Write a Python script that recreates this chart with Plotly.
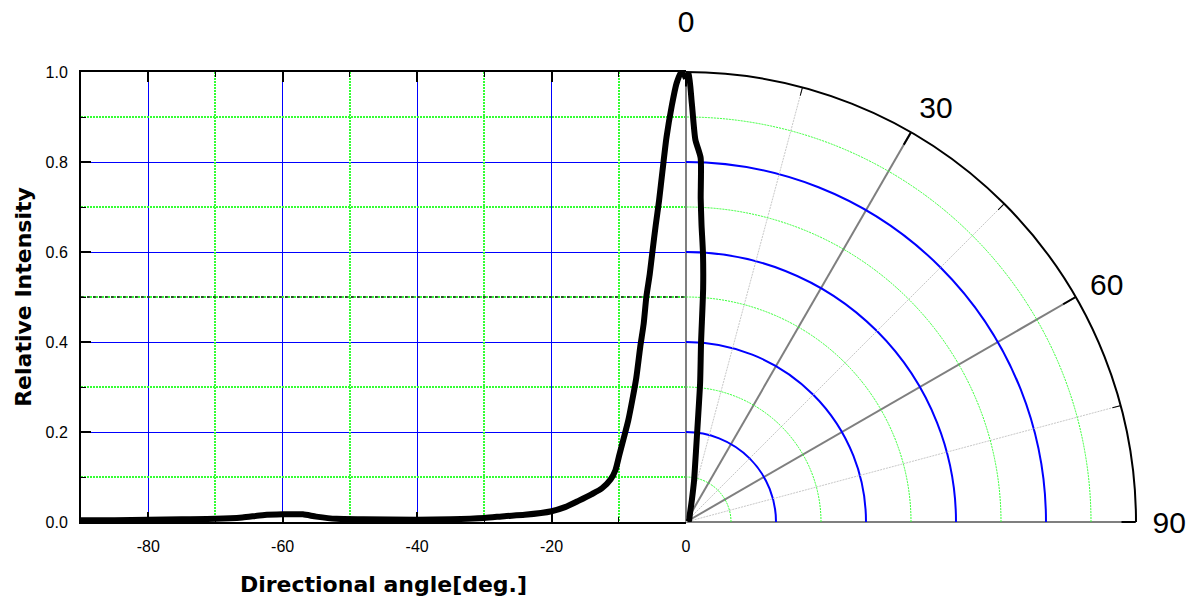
import plotly.graph_objects as go

# ---------------- data ----------------
# Left (cartesian) profile: directional angle [deg] vs relative intensity
left_angle = [-90, -85, -80, -75, -70, -66, -63, -60, -57, -55, -52, -48, -40, -35,
              -30, -27, -24, -20, -18, -16, -14, -12.5, -11.2, -10.5, -9.9, -9.2,
              -8.6, -8.0, -7.4, -6.8, -6.3, -5.9, -5.4, -5.0, -4.5, -4.0, -3.5,
              -2.9, -2.1, -1.4, -0.7, -0.3, 0]
left_intensity = [0.004, 0.004, 0.005, 0.006, 0.007, 0.010, 0.015, 0.017, 0.017, 0.012,
                  0.007, 0.006, 0.005, 0.006, 0.009, 0.013, 0.016, 0.024, 0.033, 0.047,
                  0.062, 0.075, 0.095, 0.115, 0.150, 0.190, 0.225, 0.270, 0.320, 0.390,
                  0.440, 0.500, 0.550, 0.600, 0.660, 0.715, 0.780, 0.855, 0.926, 0.975,
                  1.000, 0.995, 0.985]

# Right (polar) lobe: angle [deg] vs relative intensity
polar_angle = [0, 0.3, 0.8, 1.4, 2.3, 2.6, 3.0, 3.6, 4.2, 4.8, 5.8, 7.3, 9.0, 11.0,
               15.0, 24.0, 40.0, 60.0, 90.0]
polar_intensity = [1.0, 0.998, 0.93, 0.85, 0.81, 0.72, 0.66, 0.60, 0.52, 0.40, 0.31,
                   0.19, 0.13, 0.094, 0.05, 0.022, 0.012, 0.008, 0.005]

x_ticks = [-80, -60, -40, -20, 0]
x_tick_labels = ["-80", "-60", "-40", "-20", "0"]
x_minor_ticks = [-90, -70, -50, -30, -10]
y_ticks = [0.0, 0.2, 0.4, 0.6, 0.8, 1.0]
y_minor_ticks = [0.1, 0.3, 0.5, 0.7, 0.9]
polar_major_angles = [0, 30, 60, 90]
polar_side_angles = [30, 60, 90]
polar_side_labels = ["30", "60", "90"]
polar_top_angles = [0]
polar_top_labels = ["0"]
polar_minor_angles = [15, 45, 75]
radial_major = [0.2, 0.4, 0.6, 0.8]
radial_minor = [0.1, 0.3, 0.5, 0.7, 0.9]
radial_outer = [1.0]
radial_outer_range = [0, 1.02]

# ---------------- layout geometry ----------------
W, H = 1198, 607
cx, cy = 686, 522          # pixel position of the origin / polar centre
R = 450                    # pixel radius of polar plot (= height of left plot)
x_left = 81

BLUE = "#0000ff"
GREEN = "#33ff33"
GDASH = "2px,1px"
FONT = "Liberation Sans"

fig = go.Figure()

fig.add_trace(go.Scatter(
    x=left_angle, y=left_intensity, mode="lines",
    line=dict(color="black", width=6, shape="spline", smoothing=0.6),
    cliponaxis=False, showlegend=False, hoverinfo="skip"))

# empty trace so that the overlay axes (minor grid) are rendered
fig.add_trace(go.Scatter(x=[], y=[], xaxis="x2", yaxis="y2", mode="lines",
                         showlegend=False, hoverinfo="skip"))

# empty traces so that the grid-only polar layers are rendered
for sp in ["polar", "polar2", "polar3"]:
    fig.add_trace(go.Scatterpolar(r=[], theta=[], mode="lines", subplot=sp,
                                  showlegend=False, hoverinfo="skip"))

fig.add_trace(go.Scatterpolar(
    r=polar_intensity, theta=polar_angle, mode="lines",
    line=dict(color="black", width=6, shape="spline", smoothing=0.6),
    cliponaxis=False, subplot="polar4", showlegend=False, hoverinfo="skip"))

ydom = [(H - cy) / H, (H - cy + R) / H]
tick_font = dict(size=16, family=FONT)

fig.update_layout(
    template="none",
    width=W, height=H,
    margin=dict(l=0, r=0, t=0, b=0),
    paper_bgcolor="white", plot_bgcolor="white",
    font=dict(family=FONT, color="black"),
    xaxis=dict(
        domain=[x_left / W, cx / W], range=[-90, 0], automargin=False,
        tickvals=x_ticks, ticktext=x_tick_labels,
        ticks="inside", ticklen=10, tickwidth=1.5, tickcolor="black",
        showline=True, linewidth=2, linecolor="black", mirror="ticks",
        showgrid=True, gridcolor=BLUE, gridwidth=1, zeroline=False,
        tickfont=tick_font, ticklabelstandoff=9,
        title=dict(text="<b>Directional angle[deg.]</b>",
                   font=dict(size=22, family="DejaVu Sans"), standoff=22),
    ),
    yaxis=dict(
        domain=ydom, range=[0, 1], automargin=False,
        tickvals=y_ticks, tickformat=".1f",
        ticks="inside", ticklen=10, tickwidth=1.5, tickcolor="black",
        showline=True, linewidth=2, linecolor="black",
        showgrid=True, gridcolor=BLUE, gridwidth=1, zeroline=False,
        tickfont=tick_font, ticklabelstandoff=8,
        title=dict(text="<b>Relative Intensity</b>",
                   font=dict(size=22, family="DejaVu Sans"), standoff=8),
    ),
    xaxis2=dict(
        overlaying="x", anchor="y2", range=[-90, 0], automargin=False,
        tickvals=x_minor_ticks, showticklabels=False,
        ticks="inside", ticklen=5, tickwidth=1.2, tickcolor="black", mirror="ticks",
        showline=False, zeroline=False,
        showgrid=True, gridcolor=GREEN, griddash=GDASH, gridwidth=1.5,
    ),
    yaxis2=dict(
        overlaying="y", anchor="x2", range=[0, 1], automargin=False,
        tickvals=y_minor_ticks, showticklabels=False,
        ticks="inside", ticklen=5, tickwidth=1.2, tickcolor="black",
        showline=False, zeroline=False,
        showgrid=True, gridcolor=GREEN, griddash=GDASH, gridwidth=1.5,
    ),
)

pdom = dict(x=[cx / W, (cx + R) / W], y=ydom)
Rb = R * radial_outer_range[1]   # enlarged domain so that r = 1 sits at radius R
pdom_big = dict(x=[cx / W, (cx + Rb) / W], y=[(H - cy) / H, (H - cy + Rb) / H])
common_ang = dict(rotation=90, direction="clockwise")
no_radial = dict(range=[0, 1], showgrid=False, showticklabels=False, ticks="",
                 showline=False)

fig.update_layout(
    polar=dict(
        domain=pdom, sector=[0, 90], bgcolor="rgba(0,0,0,0)",
        radialaxis=dict(range=[0, 1], tickvals=radial_major, showticklabels=False,
                        ticks="", showline=False, gridcolor=BLUE, gridwidth=1.5),
        angularaxis=dict(**common_ang, tickvals=polar_major_angles, showticklabels=False,
                         ticks="inside", ticklen=14, tickwidth=1.5, tickcolor="black",
                         showline=False, gridcolor="#7f7f7f", gridwidth=1.6),
    ),
    polar2=dict(
        domain=pdom, sector=[0, 90], bgcolor="rgba(0,0,0,0)",
        radialaxis=dict(range=[0, 1], tickvals=radial_minor, showticklabels=False,
                        ticks="", showline=False, gridcolor=GREEN, griddash=GDASH,
                        gridwidth=1.2),
        angularaxis=dict(**common_ang, tickvals=polar_minor_angles, showticklabels=False,
                         ticks="inside", ticklen=8, tickwidth=1.2, tickcolor="black",
                         showline=False, gridcolor="#c8c8c8", griddash=GDASH,
                         gridwidth=1),
    ),
    polar3=dict(
        domain=pdom_big, sector=[0, 90], bgcolor="rgba(0,0,0,0)",
        radialaxis=dict(range=radial_outer_range, tickvals=radial_outer, showgrid=True,
                        gridcolor="black", gridwidth=2, showticklabels=False,
                        ticks="", showline=False),
        angularaxis=dict(**common_ang, tickvals=polar_side_angles,
                         ticktext=polar_side_labels, showgrid=False,
                         ticks="outside", ticklen=1, tickcolor="rgba(0,0,0,0)",
                         showline=False,
                         tickfont=dict(size=30, family=FONT, color="black")),
    ),
    polar4=dict(
        domain=pdom, sector=[0, 90], bgcolor="rgba(0,0,0,0)",
        radialaxis=no_radial,
        angularaxis=dict(**common_ang, tickvals=polar_top_angles,
                         ticktext=polar_top_labels, showgrid=False,
                         ticks="outside", ticklen=28, tickcolor="rgba(0,0,0,0)",
                         showline=False,
                         tickfont=dict(size=30, family=FONT, color="black")),
    ),
)

fig.add_shape(type="line", xref="x", yref="y", x0=-90, x1=0, y0=0.5, y1=0.5,
              line=dict(color="#222222", width=1.5, dash="dot"), layer="between")

fig.write_html("out.html")
